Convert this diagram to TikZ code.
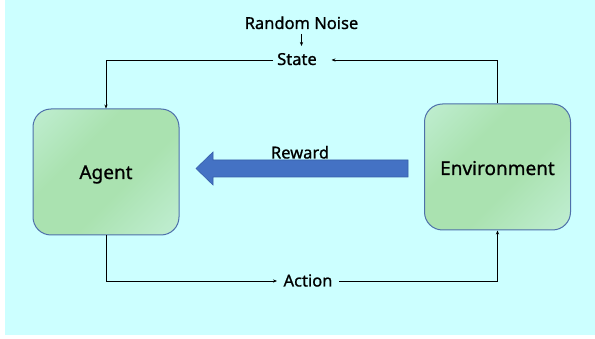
\documentclass[tikz,border=0pt]{standalone}
\usepackage{fontspec}
\setmainfont{Noto Sans}
\newfontfamily\medfont[FakeBold=0.9]{Noto Sans}
\usetikzlibrary{arrows.meta}
\definecolor{bgc}{RGB}{204,255,255}
\definecolor{midg}{RGB}{170,226,176}
\definecolor{lightg}{RGB}{205,245,230}
\definecolor{boxb}{RGB}{78,112,170}
\definecolor{arrb}{RGB}{68,114,196}
\definecolor{arrbd}{RGB}{55,95,170}
\pgfdeclarehorizontalshading{boxshade}{100bp}{color(0bp)=(lightg); color(38bp)=(midg); color(58bp)=(midg); color(100bp)=(lightg)}
\tikzset{
  box/.style={draw=boxb, line width=1pt, rounded corners=18pt, shading=boxshade, shading angle=-45,
    minimum width=146pt, minimum height=126pt, inner sep=0pt},
  lbl/.style={font=\medfont\fontsize{16.5}{18}\selectfont, inner sep=0pt, anchor=base},
  big/.style={font=\medfont\fontsize{19}{21}\selectfont, inner sep=0pt, anchor=base},
  conn/.style={draw=black, line width=0.8pt},
  tip/.style={-{Stealth[length=4pt,width=3.2pt]}}
}
\begin{document}
\begin{tikzpicture}[x=1pt,y=-1pt]
\useasboundingbox (0,0) rectangle (595,339);
\fill[bgc] (5,0) rectangle (595,335);
% boxes
\node[box] (agent) at (106,172) {};
\node[box] (env) at (497.5,167) {};
\node[big] (agenttxt) at (106,179) {Agent};
\node[big] (envtxt) at (497.5,175) {Environment};
% labels
\node[lbl] (noise) at (301.5,29) {Random Noise};
\node[lbl] (state) at (297,65) {State};
\node[lbl] (reward) at (300,158.5) {Reward};
\node[lbl] (action) at (308,286.5) {Action};
% connector coordinates
\coordinate (noiseA) at (301.5,34);
\coordinate (noiseB) at (301.5,46);
\coordinate (stateL) at (273,60);
\coordinate (stateR) at (331.5,60);
\coordinate (actL) at (277,281);
\coordinate (actR) at (339,281);
% connectors
\draw[conn,tip, line width=0.6pt] (noiseA) -- (noiseB);
\draw[conn,tip] (stateL) -| (agent.north);
\draw[conn,tip] (env.north) |- (stateR);
\draw[conn,tip] (agent.south) |- (actL);
\draw[conn,tip] (actR) -| (env.south);
% reward arrow
\filldraw[fill=arrb, draw=arrbd, line width=0.6pt]
  (408,160) -- (213,160) -- (213,152) -- (196,168.5) -- (213,185) -- (213,177) -- (408,177) -- cycle;
\end{tikzpicture}
\end{document}
